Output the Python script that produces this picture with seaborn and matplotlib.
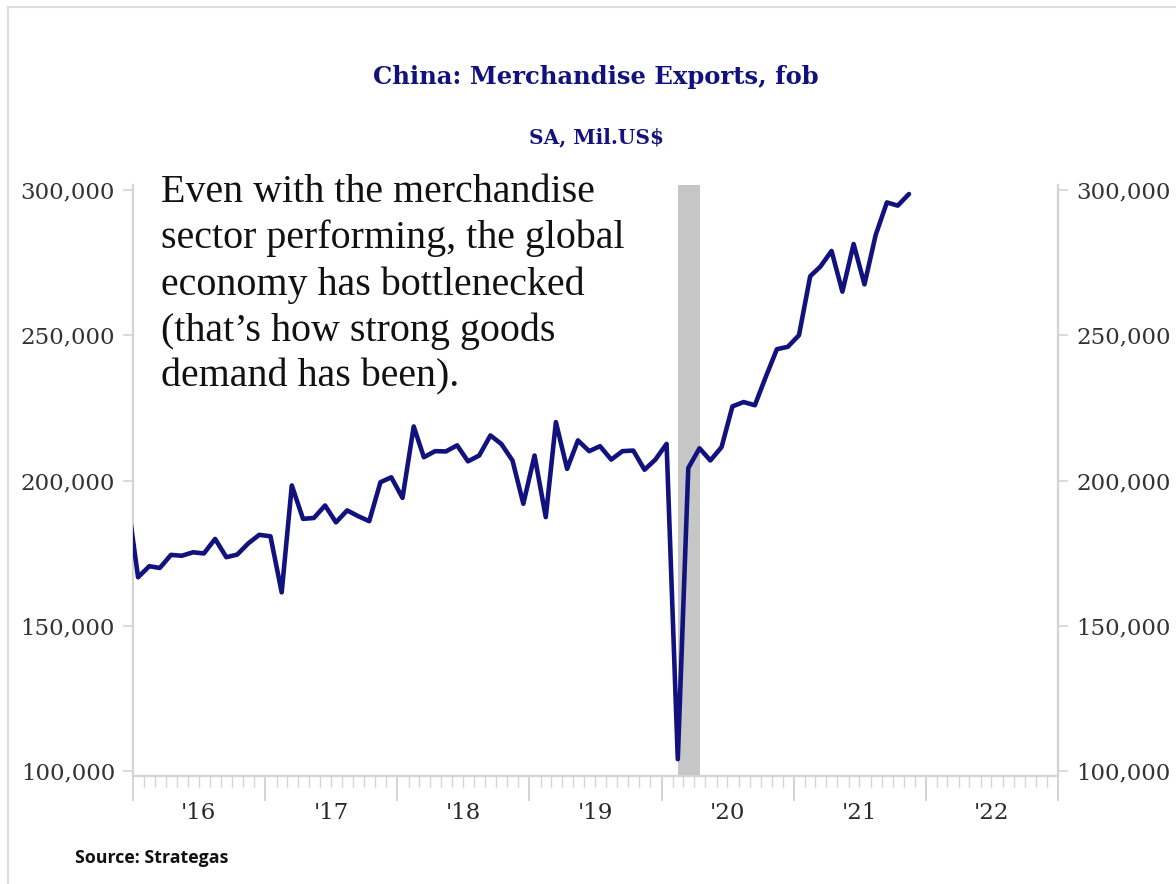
import numpy as np
import pandas as pd
import matplotlib
matplotlib.use("Agg")
import matplotlib.pyplot as plt
import matplotlib.dates as mdates
from matplotlib.ticker import FuncFormatter, FixedLocator
from matplotlib.lines import Line2D
import seaborn as sns

# ---------------- data (Mil. US$, thousands) ----------------
start_month = "2015-12-01"
exports_2015 = [195.0]
exports_2016 = [166.7, 170.5, 169.9, 174.4, 174.1, 175.3, 174.9, 179.9, 173.6, 174.5, 178.4, 181.3]
exports_2017 = [180.8, 161.5, 198.3, 186.8, 187.1, 191.4, 185.6, 189.7, 187.7, 186.0, 199.4, 201.1]
exports_2018 = [194.0, 218.6, 208.0, 210.1, 210.0, 212.1, 206.6, 208.6, 215.5, 212.6, 206.9, 192.0]
exports_2019 = [208.6, 187.4, 220.1, 204.0, 213.8, 210.1, 211.8, 207.2, 210.1, 210.3, 203.7, 207.2]
exports_2020 = [212.6, 104.1, 204.3, 211.1, 206.9, 211.5, 225.5, 227.0, 225.9, 235.6, 245.2, 246.0]
exports_2021 = [250.0, 270.3, 273.6, 279.0, 265.0, 281.4, 267.5, 284.5, 295.7, 294.6, 298.6]

recession_start = "2020-02-15"
recession_end = "2020-04-15"

year_labels = ["'16", "'17", "'18", "'19", "'20", "'21", "'22"]
y_ticks = [100000, 150000, 200000, 250000, 300000]

values = (exports_2015 + exports_2016 + exports_2017 + exports_2018 +
          exports_2019 + exports_2020 + exports_2021)
dates = pd.date_range(start_month, periods=len(values), freq="MS") + pd.Timedelta(days=14)
df = pd.DataFrame({"date": dates, "exports": np.array(values) * 1000})

# ---------------- figure ----------------
sns.set_theme(style="white")
plt.rcParams["font.family"] = ["DejaVu Serif"]

W, H = 1176, 884
fig = plt.figure(figsize=(W / 100, H / 100), dpi=100)
ax = fig.add_axes([133 / W, 1 - 776 / H, (1058 - 133) / W, (776 - 185) / H])

navy = "#12127f"
grid_gray = "#d4d4d4"
label_col = "#333333"

ax.axvspan(pd.Timestamp(recession_start), pd.Timestamp(recession_end),
           color="#c6c6c6", lw=0, zorder=1)
sns.lineplot(data=df, x="date", y="exports", ax=ax, color=navy, lw=3.3, zorder=3)

ax.set_xlim(pd.Timestamp("2016-01-01"), pd.Timestamp("2023-01-01"))
ax.set_ylim(98300, 301700)
ax.set_xlabel("")
ax.set_ylabel("")

# spines
for side in ["left", "right", "bottom"]:
    ax.spines[side].set_visible(True)
    ax.spines[side].set_color(grid_gray)
    ax.spines[side].set_linewidth(1.6)
ax.spines["top"].set_visible(False)

# y axis on both sides
ax.yaxis.set_major_locator(FixedLocator(y_ticks))
ax.yaxis.set_major_formatter(FuncFormatter(lambda v, p: f"{int(v):,}"))
ax.tick_params(axis="y", which="both", left=True, right=True, labelleft=True,
               labelright=True, direction="out", length=7, width=1.2,
               color=grid_gray, labelsize=16.5, labelcolor=label_col, pad=6)

# x axis: year ticks long, month ticks short, labels mid-year
ax.xaxis.set_major_locator(mdates.YearLocator())
ax.xaxis.set_minor_locator(mdates.MonthLocator())
ax.xaxis.set_major_formatter(FuncFormatter(lambda v, p: ""))
ax.tick_params(axis="x", which="major", direction="out", length=18, width=1.4,
               color=grid_gray, bottom=True)
ax.tick_params(axis="x", which="minor", direction="out", length=8, width=1.0,
               color=grid_gray, bottom=True)
for i, lab in enumerate(year_labels):
    ax.text(pd.Timestamp(f"{2016 + i}-07-01"), -0.063, lab, transform=ax.get_xaxis_transform(),
            ha="center", va="center", fontsize=16.5, color="#2a2a2a")
ax.grid(False)

# titles
fig.text(596 / W, 1 - 77 / H, "China: Merchandise Exports, fob", ha="center", va="center",
         fontsize=17.5, fontweight="bold", color=navy)
fig.text(596 / W, 1 - 137 / H, "SA, Mil.US$", ha="center", va="center",
         fontsize=14.5, fontweight="bold", color=navy)

# annotation
fig.text(161 / W, 1 - 174 / H,
         "Even with the merchandise\nsector performing, the global\neconomy has bottlenecked\n(that\u2019s how strong goods\ndemand has been).",
         ha="left", va="top", fontsize=28.8, color="#111111",
         family=["Liberation Serif", "DejaVu Serif"], linespacing=1.31)

# source
fig.text(75 / W, 1 - 858 / H, "Source: Strategas", ha="left", va="center",
         fontsize=12.8, fontweight="bold", color="#111111",
         family=["Open Sans", "DejaVu Sans"])

# screenshot frame lines
fig.add_artist(Line2D([8 / W, 8 / W], [1 - 7 / H, 0], color="#dcdcdc", lw=1.5,
                      transform=fig.transFigure))
fig.add_artist(Line2D([8 / W, 1], [1 - 7 / H, 1 - 7 / H], color="#dcdcdc", lw=1.5,
                      transform=fig.transFigure))

fig.savefig("out.png", dpi=100)
